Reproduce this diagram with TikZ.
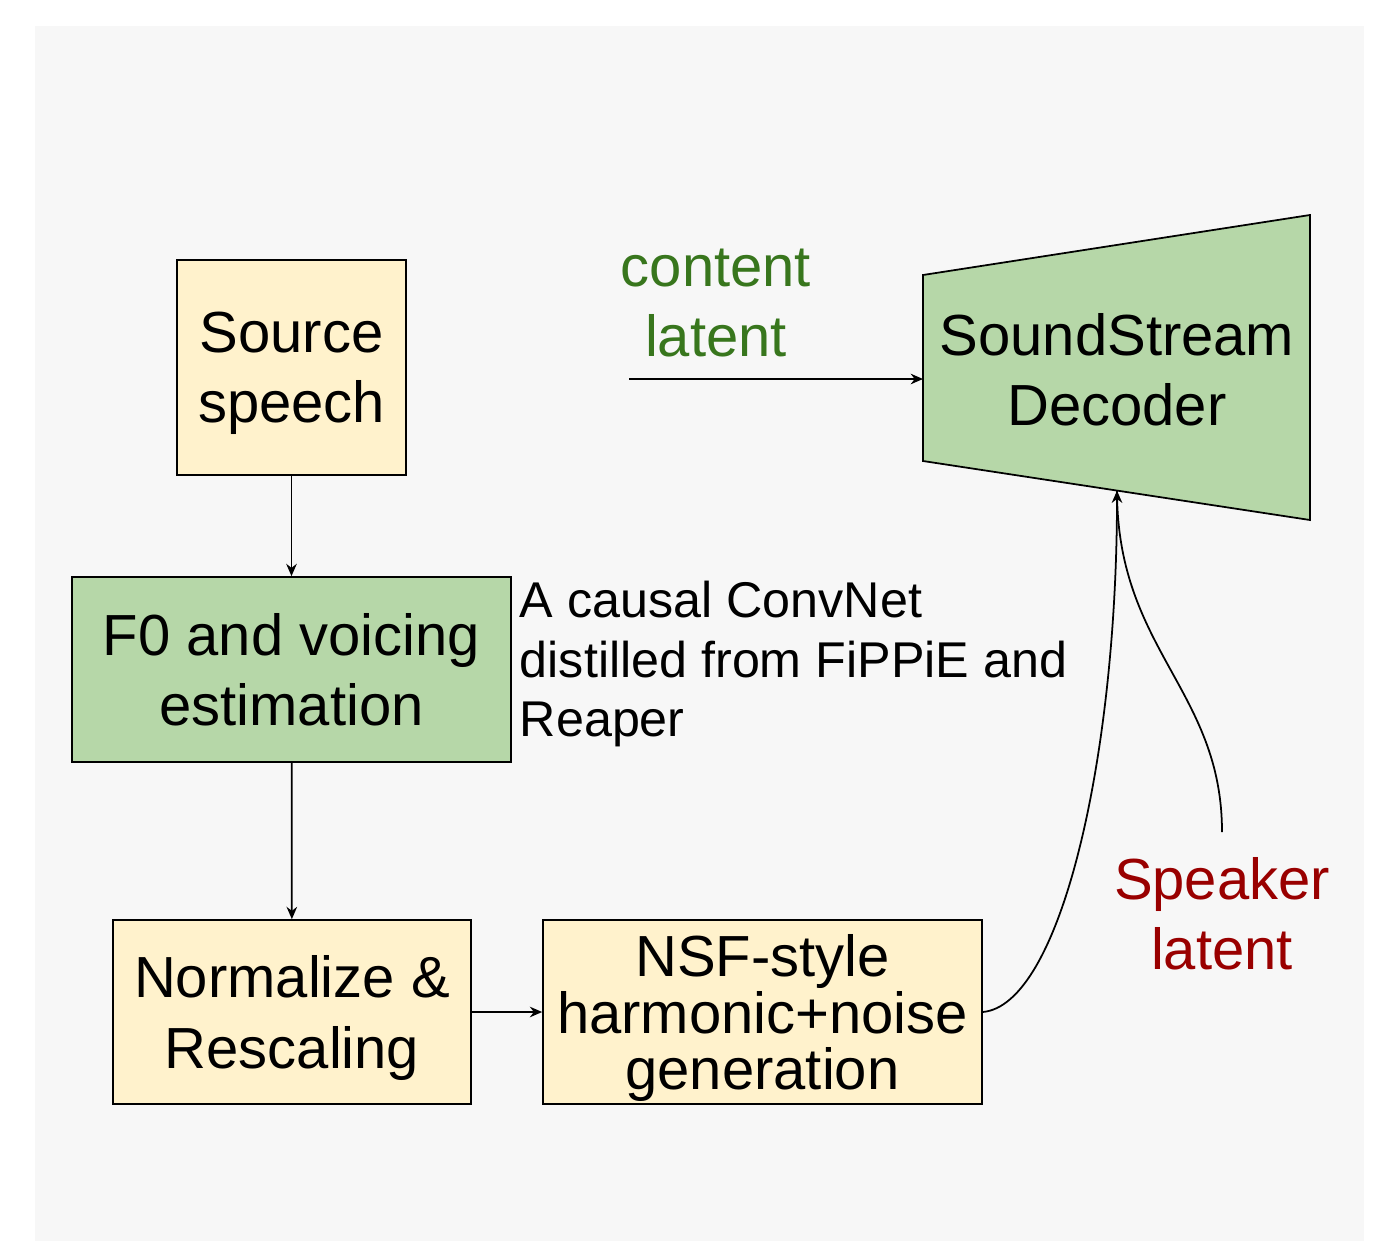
\documentclass[tikz,border=0pt]{standalone}
\usepackage{fontspec}
\setmainfont{Liberation Sans}
\usetikzlibrary{%
  arrows.meta,%
  positioning,% wg. " of "
  calc%
}
\definecolor{boxyellow}{HTML}{FFF2CC}
\definecolor{boxgreen}{HTML}{B6D7A8}
\definecolor{bggray}{HTML}{F7F7F7}
\definecolor{contentgreen}{HTML}{38761D}
\definecolor{speakerred}{HTML}{990000}

\begin{document}
\begin{tikzpicture}
  [
  x=0.02cm, y=-0.02cm,
  line width=1pt, draw=black, >={Stealth[length=7pt,width=6pt]},
  bignode/.style={draw=black, inner sep=0pt, align=center, text depth=0pt,
    font=\fontsize{33}{40}\selectfont},
  yellownode/.style={bignode, fill=boxyellow},
  greennode/.style={bignode, fill=boxgreen},
  labelnode/.style={inner sep=0pt, align=center, font=\fontsize{33}{40}\selectfont}
  ]

  \useasboundingbox (0,0) rectangle (1380,1241);
  \fill[bggray] (35,26) rectangle (1364,1241);

  % boxes on the left
  \node[yellownode, minimum width=4.58cm, minimum height=4.3cm] (src) at (291.5,367.5) {Source\\speech};
  \node[greennode, minimum width=8.78cm, minimum height=3.7cm] (f0) at (291.5,669.5) {F0 and voicing\\estimation};
  \node[yellownode, minimum width=7.16cm, minimum height=3.68cm] (norm) at (292,1012) {Normalize \&\\Rescaling};
  \node[yellownode, minimum width=8.78cm, minimum height=3.68cm,
    font=\fontsize{33}{32}\selectfont] (nsf) at (762.5,1012) {NSF-style\\harmonic+noise\\generation};

  \node[inner sep=0pt, anchor=west, align=left, font=\fontsize{28.6}{34}\selectfont]
    (note) at (519,664) {A causal ConvNet\\distilled from FiPPiE and\\Reaper};

  % decoder
  \coordinate (dec-tl) at (923,275);
  \coordinate (dec-tr) at (1310,215);
  \coordinate (dec-br) at (1310,520);
  \coordinate (dec-bl) at (923,461);
  \draw[fill=boxgreen] (dec-tl) -- (dec-tr) -- (dec-br) -- (dec-bl) -- cycle;
  \node[labelnode] (dec) at (1117,370) {SoundStream\\Decoder};
  \coordinate (dec-in) at (923,379);
  \coordinate (dec-bot) at (1117,490.6);

  \node[labelnode, text=contentgreen] (content) at (716,303) {content\\latent};
  \coordinate (content-out) at (629,379);
  \node[labelnode, text=speakerred] (speaker) at (1222,914) {Speaker\\latent};
  \coordinate (speaker-out) at (1222,832);

  % connectors
  \draw[->] (src) -- (f0);
  \draw[->] (f0) -- (norm);
  \draw[->] (norm) -- (nsf);
  \draw[->] (content-out) -- (dec-in);
  \draw[->] (nsf.east) .. controls (1060,1005) and (1117,760) .. (dec-bot);
  \draw (speaker-out) .. controls (1222,690) and (1117,650) .. (dec-bot);
\end{tikzpicture}
\end{document}
